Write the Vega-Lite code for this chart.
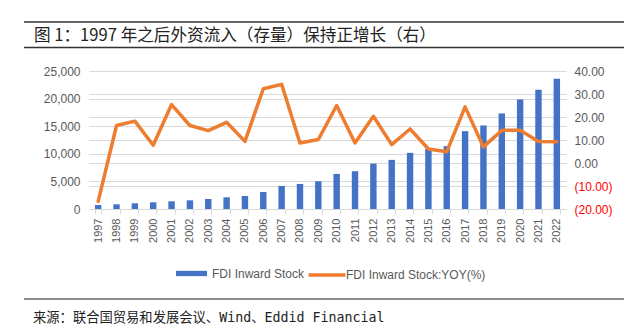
{
  "$schema": "https://vega.github.io/schema/vega-lite/v6.json",
  "background": "white",
  "padding": {"left": 23, "top": 21, "right": 5, "bottom": 5},
  "columns": 1,
  "spacing": 16,
  "resolve": {"legend": {"fill": "independent", "stroke": "independent"}},
  "config": {
    "view": {"stroke": null},
    "axis": {"labelFont": "Liberation Sans", "labelFontSize": 12, "labelColor": "#595959"},
    "legend": {"labelFont": "Liberation Sans", "labelFontSize": 12, "labelColor": "#595959", "padding": 0}
  },
  "concat": [
    {
      "width": 535,
      "height": 25.5,
      "layer": [
        {
          "data": {"values": [{"edge": "top"}, {"edge": "bottom"}]},
          "mark": {"type": "rule", "color": "#333333", "strokeWidth": 1.5},
          "encoding": {
            "y": {"field": "edge", "type": "nominal", "scale": {"type": "point", "domain": ["top", "bottom"], "padding": 0}, "axis": null},
            "x": {"datum": -65, "type": "quantitative", "scale": {"domain": [0, 535], "zero": false, "nice": false}, "axis": null},
            "x2": {"datum": 535}
          }
        },
        {
          "data": {"values": [{"label": "图 1：1997 年之后外资流入（存量）保持正增长（右）"}]},
          "mark": {"type": "text", "align": "left", "baseline": "middle", "dy": 1, "font": "Noto Sans CJK SC", "fontSize": 16.6, "color": "#222222"},
          "encoding": {
            "text": {"field": "label"},
            "x": {"datum": -55, "type": "quantitative", "axis": null}
          }
        }
      ]
    },
    {
      "width": 477,
      "height": 138,
      "data": {
        "values": [
          {"year": "1997", "stock": 726, "yoy": -16.7},
          {"year": "1998", "stock": 850, "yoy": 16.3},
          {"year": "1999", "stock": 1030, "yoy": 18.2},
          {"year": "2000", "stock": 1210, "yoy": 7.7},
          {"year": "2001", "stock": 1390, "yoy": 25.4},
          {"year": "2002", "stock": 1570, "yoy": 16.3},
          {"year": "2003", "stock": 1815, "yoy": 14.1},
          {"year": "2004", "stock": 2120, "yoy": 17.7},
          {"year": "2005", "stock": 2360, "yoy": 9.4},
          {"year": "2006", "stock": 3090, "yoy": 32.3},
          {"year": "2007", "stock": 4180, "yoy": 34.2},
          {"year": "2008", "stock": 4540, "yoy": 8.7},
          {"year": "2009", "stock": 5020, "yoy": 10.2},
          {"year": "2010", "stock": 6360, "yoy": 25.0},
          {"year": "2011", "stock": 6840, "yoy": 8.7},
          {"year": "2012", "stock": 8230, "yoy": 20.3},
          {"year": "2013", "stock": 8900, "yoy": 8.0},
          {"year": "2014", "stock": 10170, "yoy": 14.8},
          {"year": "2015", "stock": 10900, "yoy": 6.1},
          {"year": "2016", "stock": 11380, "yoy": 4.9},
          {"year": "2017", "stock": 14100, "yoy": 24.4},
          {"year": "2018", "stock": 15130, "yoy": 7.0},
          {"year": "2019", "stock": 17310, "yoy": 14.2},
          {"year": "2020", "stock": 19850, "yoy": 14.2},
          {"year": "2021", "stock": 21610, "yoy": 9.3},
          {"year": "2022", "stock": 23610, "yoy": 9.2}
        ]
      },
      "encoding": {
        "x": {
          "field": "year",
          "type": "ordinal",
          "scale": {"paddingInner": 0.65, "paddingOuter": 0.325},
          "axis": {
            "title": null,
            "labelAngle": -90,
            "labelFontSize": 11,
            "domainColor": "#d9d9d9",
            "tickColor": "#d9d9d9",
            "tickSize": 5,
            "tickBand": "extent",
            "labelPadding": 4,
            "grid": false
          }
        }
      },
      "layer": [
        {
          "mark": {"type": "bar"},
          "encoding": {
            "y": {
              "field": "stock",
              "type": "quantitative",
              "scale": {"domain": [0, 25000]},
              "axis": {
                "orient": "left",
                "values": [0, 5000, 10000, 15000, 20000, 25000],
                "format": ",.0f",
                "title": null,
                "domain": false,
                "ticks": false,
                "labelPadding": 9,
                "minExtent": 65,
                "grid": true,
                "gridColor": "#d9d9d9"
              }
            },
            "fill": {
              "datum": "FDI Inward Stock",
              "type": "nominal",
              "scale": {"range": ["#4472C4"]},
              "legend": {
                "title": null,
                "orient": "none",
                "legendX": 92,
                "legendY": 192,
                "symbolType": "M-1.51,-0.26H1.51V0.26H-1.51Z",
                "symbolSize": 420,
                "symbolStrokeWidth": 0,
                "labelOffset": 10
              }
            }
          }
        },
        {
          "mark": {"type": "line", "strokeWidth": 3.5, "strokeJoin": "round", "strokeCap": "round"},
          "encoding": {
            "y": {
              "field": "yoy",
              "type": "quantitative",
              "scale": {"domain": [-20, 40]},
              "axis": {
                "orient": "right",
                "values": [-20, -10, 0, 10, 20, 30, 40],
                "labelExpr": "datum.value < 0 ? '(' + format(-datum.value, '.2f') + ')' : format(datum.value, '.2f')",
                "labelColor": {"condition": {"test": "datum.value < 0", "value": "#ff0000"}, "value": "#595959"},
                "title": null,
                "domain": false,
                "ticks": false,
                "labelPadding": 8,
                "grid": true,
                "gridColor": "#d9d9d9"
              }
            },
            "stroke": {
              "datum": "FDI Inward Stock:YOY(%)",
              "type": "nominal",
              "scale": {"range": ["#ED7D31"]},
              "legend": {
                "title": null,
                "orient": "none",
                "legendX": 226,
                "legendY": 192,
                "symbolType": "M-1.8,0H1.8",
                "symbolSize": 420,
                "symbolStrokeWidth": 3.5,
                "labelOffset": 7
              }
            }
          }
        }
      ],
      "resolve": {"scale": {"y": "independent"}}
    },
    {
      "width": 535,
      "height": 19,
      "layer": [
        {
          "data": {"values": [{"edge": "top"}]},
          "mark": {"type": "rule", "color": "#8c8c8c", "strokeWidth": 2},
          "encoding": {
            "y": {"field": "edge", "type": "nominal", "scale": {"type": "point", "domain": ["top", "text"], "padding": 0}, "axis": null},
            "x": {"datum": -65, "type": "quantitative", "scale": {"domain": [0, 535], "zero": false, "nice": false}, "axis": null},
            "x2": {"datum": 535}
          }
        },
        {
          "data": {"values": [{"edge": "text", "label": "来源：联合国贸易和发展会议、Wind、Eddid Financial"}]},
          "mark": {"type": "text", "align": "left", "baseline": "middle", "font": "DejaVu Sans Mono, Noto Sans CJK SC", "fontSize": 13.3, "color": "#222222"},
          "encoding": {
            "text": {"field": "label"},
            "y": {"field": "edge", "type": "nominal", "axis": null},
            "x": {"datum": -56, "type": "quantitative", "axis": null}
          }
        }
      ]
    }
  ]
}
